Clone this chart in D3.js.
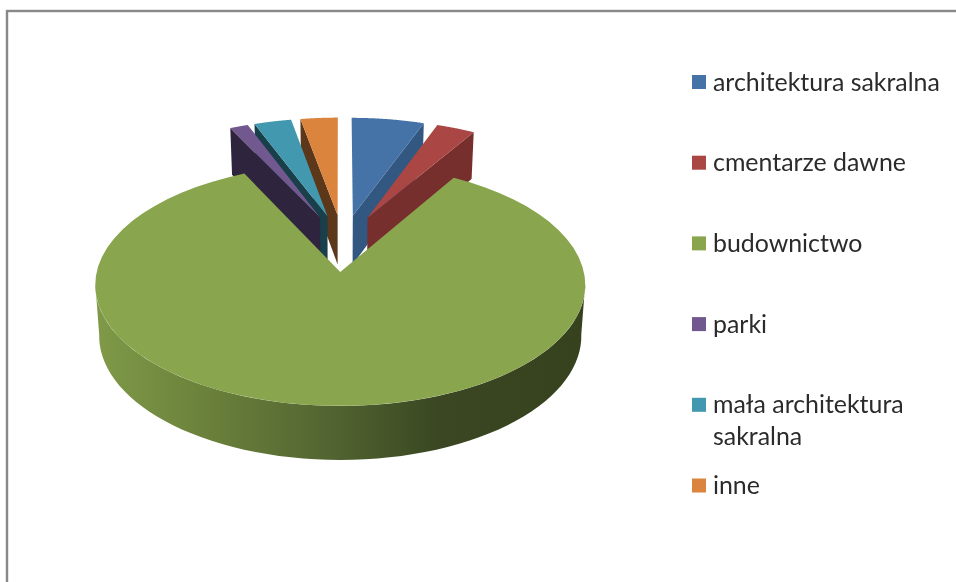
<!DOCTYPE html>
<html>
<head>
<meta charset="utf-8">
<script src="https://cdn.jsdelivr.net/npm/d3@7"></script>
<style>
  html, body { margin: 0; padding: 0; background: #fff; overflow: hidden; }
  svg { display: block; filter: blur(0.45px); }
  text { font-family: Lato, sans-serif; font-size: 24.9px; fill: #2b2b2b; }
</style>
</head>
<body>
<svg id="chart" width="956" height="582"></svg>
<script>
const categories = ['architektura sakralna', 'cmentarze dawne', 'budownictwo', 'parki', 'mała architektura\nsakralna', 'inne']
const shares = [5.55, 2.95, 84.4, 1.4, 2.85, 2.85]
const topColors = ['#4572a7', '#aa4643', '#89a54e', '#71588f', '#4198af', '#db843d']
const sideColors = ['#325780', '#772f2d', '#36421e', '#2f243d', '#183f4a', '#5c3719']
// small slices are painted back to front, budownictwo goes last
const paintOrder = [5, 4, 3, 0, 1, 2]

const svg = d3.select('#chart')

// chart frame runs off the right and bottom of the picture
svg.append('rect')
  .attr('x', 7).attr('y', 11)
  .attr('width', 1000).attr('height', 700)
  .attr('fill', 'none')
  .attr('stroke', '#888')
  .attr('stroke-width', 2.4)

// perspective of the pie plane: u right, v towards the viewer
const CX = 340, CY = 272, SX = 243.6, SY = 119.6, PERSP = -0.1075
const EXPLODE = 0.25, CENTER_U = 0.012, CENTER_V = -0.25

const project = ([u, v]) => {
  const w = 1 + PERSP * v
  return [SX * u / w, SY * v / w]
}
const toTop = ([x, y]) => [CX + x, CY + y]
// the lower face is a bit narrower and the wall gets shorter towards the back
const toBottom = ([x, y]) => [CX + x * 0.984, CY + y * 1.026 + 50.5]

const pie = d3.pie().sort(null).value(d => d)
const slices = pie(shares)

const rimPoint = (d, a) => {
  const mid = (d.startAngle + d.endAngle) / 2
  const cu = CENTER_U + EXPLODE * Math.sin(mid), cv = CENTER_V - EXPLODE * Math.cos(mid)
  return a === null ? [cu, cv] : [cu + Math.sin(a), cv - Math.cos(a)]
}

const line = d3.line()
const angleSteps = (a0, a1) => d3.range(0, 65).map(i => a0 + (a1 - a0) * i / 64)

const defs = svg.append('defs')
const wall = defs.append('linearGradient')
  .attr('id', 'wallGradient')
  .attr('gradientUnits', 'userSpaceOnUse')
  .attr('x1', 95).attr('x2', 585).attr('y1', 0).attr('y2', 0)
wall.selectAll('stop')
  .data([[0, '#7f9a48'], [0.2, '#6d843c'], [0.45, '#556832'], [0.7, '#3a4722'], [1, '#36421e']])
  .join('stop')
  .attr('offset', d => d[0])
  .attr('stop-color', d => d[1])

const pieG = svg.append('g')

paintOrder.forEach(i => {
  const d = slices[i]
  const isMain = shares[i] > 50
  const apex = project(rimPoint(d, null))
  const rim = angleSteps(d.startAngle, d.endAngle).map(a => project(rimPoint(d, a)))
  const g = pieG.append('g')

  if (isMain) {
    // outer wall, front half only so the sides join the two faces straight down
    const front = angleSteps(Math.PI * 0.53, Math.PI * 1.47).map(a => project(rimPoint(d, a)))
    g.append('path')
      .attr('d', line([...front.map(toTop), ...front.slice().reverse().map(toBottom)]) + 'Z')
      .attr('fill', 'url(#wallGradient)')
  } else {
    // only the cut face turned to the viewer is visible
    const mid = (d.startAngle + d.endAngle) / 2
    const cut = project(rimPoint(d, mid < Math.PI ? d.endAngle : d.startAngle))
    g.append('path')
      .attr('d', line([toTop(apex), toTop(cut), toBottom(cut), toBottom(apex)]) + 'Z')
      .attr('fill', sideColors[i])
  }

  g.append('path')
    .attr('d', line([toTop(apex), ...rim.map(toTop)]) + 'Z')
    .attr('fill', topColors[i])
})

// legend
const rowY = d3.scaleLinear().domain([0, 5]).range([82, 485.5])
const legend = svg.append('g')
  .selectAll('g')
  .data(categories)
  .join('g')
  .attr('transform', (d, i) => `translate(692,${rowY(i)})`)

legend.append('rect')
  .attr('x', 0).attr('y', -7)
  .attr('width', 14).attr('height', 14)
  .attr('fill', (d, i) => topColors[i])

legend.append('text')
  .attr('y', 8.5)
  .selectAll('tspan')
  .data(d => d.split('\n'))
  .join('tspan')
  .attr('x', 21)
  .attr('dy', (d, i) => i ? 32 : 0)
  .text(d => d)
</script>
</body>
</html>
